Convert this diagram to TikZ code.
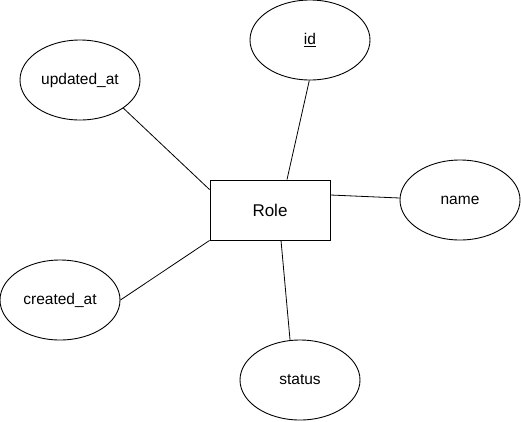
\documentclass[tikz,border=0pt]{standalone}
\usepackage{fontspec}
\setmainfont{Liberation Sans}
\usetikzlibrary{shapes.geometric,calc}
\begin{document}
\begin{tikzpicture}[x=1pt,y=-1pt,
  attr/.style={draw,ellipse,line width=0.9pt,minimum width=120pt,minimum height=80pt,inner sep=0pt,font=\fontsize{15.5}{18}\selectfont},
  ent/.style={draw,rectangle,line width=0.9pt,minimum width=120pt,minimum height=60pt,inner sep=0pt,font=\fontsize{17}{20}\selectfont},
  conn/.style={line width=0.8pt}]
\useasboundingbox (0,0) rectangle (521,421);
\node[ent] (role) at (270,210) {Role};
\node[attr] (id) at (310,40) {\underline{id}};
\node[attr] (upd) at (80,80) {updated\_at};
\node[attr] (name) at (460,200) {name};
\node[attr] (cre) at (60,300) {created\_at};
\node[attr] (status) at (300,380) {status};
\draw[conn] (upd.-33) -- ($(role.north west)+(0,10)$);
\draw[conn] (id.-91) -- ($(role.north)+(17,0)$);
\draw[conn] ($(role.east)+(0,-15)$) -- ($(name.west)+(0,-2)$);
\draw[conn] (cre.east) -- (role.south west);
\draw[conn] ($(role.south)+(11,0)$) -- (status.104);
\end{tikzpicture}
\end{document}
